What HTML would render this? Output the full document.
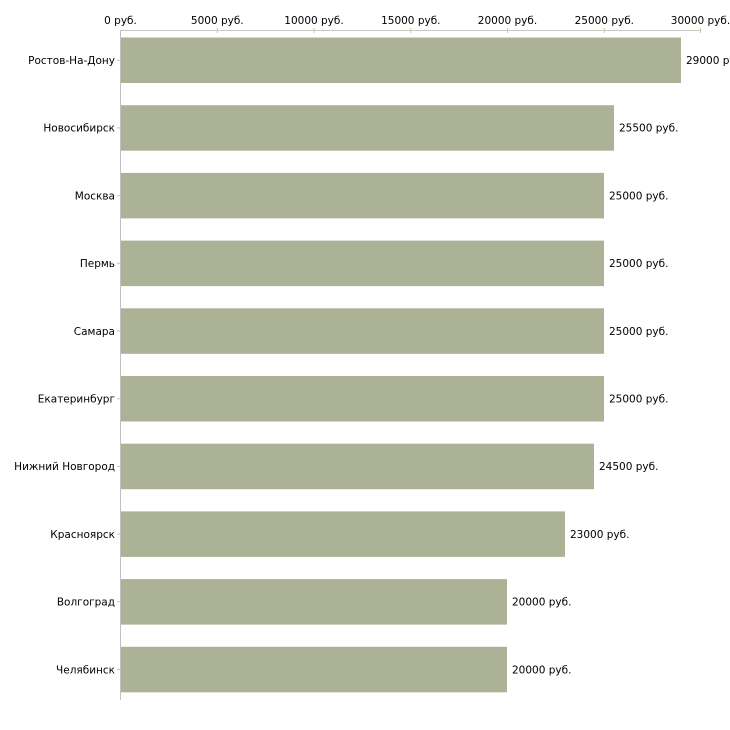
<!DOCTYPE html>
<html><head><meta charset="utf-8"><style>
html,body{margin:0;padding:0;background:#fff;}
svg{display:block;font-family:"DejaVu Sans","Liberation Sans",sans-serif;font-size:10.5px;fill:#000;}
</style></head><body>
<svg width="730" height="730" viewBox="0 0 730 730" xmlns="http://www.w3.org/2000/svg">
<line x1="120.5" y1="30.5" x2="700" y2="30.5" stroke="#c8c8c0" stroke-width="1"/>
<line x1="120.5" y1="30" x2="120.5" y2="700" stroke="#c0c0c0" stroke-width="1"/>
<g stroke="#c8c8a8">
<line x1="217.3" y1="28" x2="217.3" y2="33"/>
<line x1="314" y1="28" x2="314" y2="33"/>
<line x1="410.8" y1="28" x2="410.8" y2="33"/>
<line x1="507.5" y1="28" x2="507.5" y2="33"/>
<line x1="604.3" y1="28" x2="604.3" y2="33"/>
<line x1="700.5" y1="28" x2="700.5" y2="33"/>
</g>
<g text-anchor="middle">
<text x="120.5" y="24">0 руб.</text>
<text x="217.3" y="24">5000 руб.</text>
<text x="314" y="24">10000 руб.</text>
<text x="410.8" y="24">15000 руб.</text>
<text x="507.5" y="24">20000 руб.</text>
<text x="604.3" y="24">25000 руб.</text>
<text x="700.5" y="24">30000 руб.</text>
</g>
<g fill="#acb296">
<rect x="121" y="37.5" width="560" height="45.5"/>
<rect x="121" y="105.2" width="493" height="45.5"/>
<rect x="121" y="172.9" width="483" height="45.5"/>
<rect x="121" y="240.6" width="483" height="45.5"/>
<rect x="121" y="308.3" width="483" height="45.5"/>
<rect x="121" y="376" width="483" height="45.5"/>
<rect x="121" y="443.7" width="473" height="45.5"/>
<rect x="121" y="511.4" width="444" height="45.5"/>
<rect x="121" y="579.1" width="386" height="45.5"/>
<rect x="121" y="646.8" width="386" height="45.5"/>
</g>
<g stroke="#c8c8a8">
<line x1="117" y1="60.2" x2="120" y2="60.2"/>
<line x1="117" y1="127.9" x2="120" y2="127.9"/>
<line x1="117" y1="195.6" x2="120" y2="195.6"/>
<line x1="117" y1="263.3" x2="120" y2="263.3"/>
<line x1="117" y1="331" x2="120" y2="331"/>
<line x1="117" y1="398.7" x2="120" y2="398.7"/>
<line x1="117" y1="466.4" x2="120" y2="466.4"/>
<line x1="117" y1="534.1" x2="120" y2="534.1"/>
<line x1="117" y1="601.8" x2="120" y2="601.8"/>
<line x1="117" y1="669.5" x2="120" y2="669.5"/>
</g>
<g text-anchor="end">
<text x="115" y="64">Ростов-На-Дону</text>
<text x="115" y="131.7">Новосибирск</text>
<text x="115" y="199.4">Москва</text>
<text x="115" y="267.1">Пермь</text>
<text x="115" y="334.8">Самара</text>
<text x="115" y="402.5">Екатеринбург</text>
<text x="115" y="470.2">Нижний Новгород</text>
<text x="115" y="537.9">Красноярск</text>
<text x="115" y="605.6">Волгоград</text>
<text x="115" y="673.3">Челябинск</text>
</g>
<g>
<text x="686" y="64">29000 руб.</text>
<text x="619" y="131.7">25500 руб.</text>
<text x="609" y="199.4">25000 руб.</text>
<text x="609" y="267.1">25000 руб.</text>
<text x="609" y="334.8">25000 руб.</text>
<text x="609" y="402.5">25000 руб.</text>
<text x="599" y="470.2">24500 руб.</text>
<text x="570" y="537.9">23000 руб.</text>
<text x="512" y="605.6">20000 руб.</text>
<text x="512" y="673.3">20000 руб.</text>
</g>
</svg>
</body></html>
